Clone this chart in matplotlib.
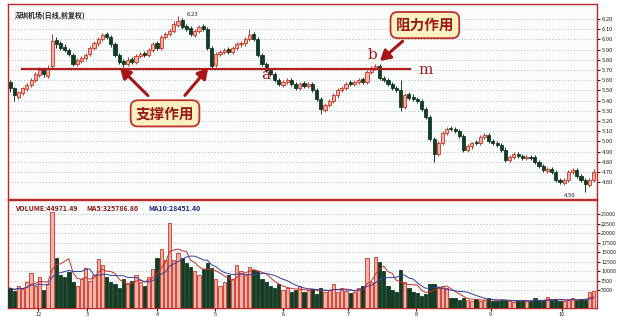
import numpy as np
import pandas as pd
import matplotlib
matplotlib.use("Agg")
from matplotlib import pyplot as plt

plt.rcParams['font.family'] = ['Noto Sans CJK SC', 'DejaVu Sans']

# daily candles (price, yuan)
opens = [5.58,5.52,5.44,5.47,5.51,5.55,5.60,5.65,5.71,5.64,
         5.74,5.99,5.96,5.93,5.90,5.85,5.76,5.79,5.82,5.86,
         5.92,5.96,6.00,6.05,6.02,5.95,5.85,5.79,5.76,5.81,
         5.78,5.84,5.87,5.85,5.90,5.96,5.92,6.02,6.05,6.08,
         6.14,6.19,6.13,6.11,6.04,6.08,6.13,6.10,5.92,5.75,
         5.86,5.88,5.91,5.88,5.92,5.95,5.96,6.00,6.05,6.00,
         5.85,5.76,5.70,5.66,5.60,5.55,5.58,5.60,5.56,5.52,
         5.57,5.54,5.56,5.50,5.42,5.31,5.36,5.40,5.45,5.50,
         5.52,5.58,5.56,5.58,5.61,5.58,5.68,5.72,5.74,5.62,
         5.60,5.56,5.52,5.50,5.34,5.46,5.44,5.42,5.40,5.32,
         5.24,5.02,4.88,4.98,5.08,5.13,5.12,5.10,5.05,4.92,
         4.95,4.99,4.98,5.04,5.06,5.00,4.98,4.96,4.92,4.82,
         4.85,4.88,4.86,4.84,4.85,4.85,4.80,4.76,4.71,4.73,
         4.70,4.62,4.59,4.62,4.70,4.72,4.66,4.62,4.57,4.62]
closes = [5.52,5.45,5.48,5.52,5.55,5.60,5.66,5.70,5.66,5.72,
          5.98,5.95,5.92,5.90,5.86,5.76,5.80,5.82,5.85,5.92,
          5.96,6.00,6.04,6.02,5.95,5.85,5.78,5.76,5.80,5.78,
          5.84,5.86,5.85,5.90,5.95,5.92,6.02,6.05,6.08,6.15,
          6.18,6.12,6.10,6.05,6.08,6.12,6.10,5.92,5.74,5.86,
          5.88,5.90,5.88,5.92,5.95,5.96,6.00,6.04,6.00,5.85,
          5.76,5.70,5.66,5.60,5.56,5.58,5.60,5.56,5.52,5.56,
          5.54,5.56,5.50,5.42,5.32,5.36,5.40,5.45,5.50,5.52,
          5.56,5.56,5.58,5.60,5.58,5.68,5.72,5.74,5.62,5.60,
          5.56,5.52,5.50,5.34,5.45,5.43,5.42,5.40,5.32,5.24,
          5.02,4.88,4.98,5.08,5.12,5.12,5.10,5.05,4.92,4.95,
          4.98,4.98,5.04,5.06,5.00,4.98,4.96,4.92,4.82,4.85,
          4.88,4.86,4.84,4.85,4.84,4.80,4.76,4.72,4.73,4.70,
          4.62,4.60,4.62,4.70,4.72,4.66,4.62,4.58,4.62,4.70]
highs = [5.60,5.53,5.49,5.53,5.57,5.62,5.68,5.73,5.72,5.75,
         6.05,6.02,5.98,5.95,5.92,5.87,5.82,5.84,5.87,5.94,
         5.98,6.02,6.06,6.07,6.04,5.97,5.87,5.81,5.83,5.83,
         5.86,5.88,5.89,5.92,5.97,5.98,6.04,6.07,6.10,6.18,
         6.23,6.21,6.15,6.13,6.10,6.14,6.15,6.12,5.94,5.88,
         5.90,5.92,5.93,5.94,5.97,5.98,6.02,6.10,6.07,6.02,
         5.87,5.78,5.72,5.68,5.62,5.60,5.62,5.62,5.58,5.58,
         5.59,5.58,5.58,5.52,5.44,5.38,5.42,5.47,5.52,5.54,
         5.58,5.60,5.60,5.62,5.63,5.70,5.74,5.76,5.76,5.64,
         5.62,5.58,5.54,5.60,5.47,5.48,5.46,5.44,5.42,5.34,
         5.26,5.04,5.00,5.10,5.14,5.15,5.14,5.12,5.07,4.97,
         4.99,5.01,5.06,5.08,5.08,5.02,5.00,4.98,4.94,4.87,
         4.90,4.90,4.88,4.87,4.87,4.87,4.82,4.78,4.75,4.75,
         4.72,4.64,4.64,4.72,4.74,4.74,4.68,4.64,4.64,4.73]
lows = [5.48,5.40,5.42,5.45,5.49,5.53,5.58,5.63,5.63,5.62,
        5.72,5.92,5.90,5.88,5.84,5.74,5.74,5.77,5.80,5.84,
        5.90,5.94,5.98,6.00,5.93,5.83,5.76,5.73,5.74,5.76,
        5.76,5.82,5.83,5.83,5.88,5.90,5.90,6.00,6.03,6.06,
        6.12,6.10,6.08,6.03,6.02,6.06,6.08,5.90,5.72,5.73,
        5.84,5.86,5.86,5.86,5.90,5.93,5.94,5.98,5.98,5.83,
        5.74,5.68,5.64,5.58,5.54,5.53,5.56,5.54,5.50,5.50,
        5.52,5.52,5.48,5.40,5.27,5.29,5.34,5.38,5.43,5.48,
        5.50,5.54,5.54,5.56,5.56,5.56,5.66,5.70,5.60,5.58,
        5.54,5.50,5.48,5.30,5.32,5.41,5.40,5.38,5.30,5.22,
        5.00,4.80,4.86,4.96,5.06,5.10,5.08,5.03,4.90,4.90,
        4.93,4.96,4.96,5.02,4.98,4.96,4.94,4.90,4.80,4.80,
        4.83,4.84,4.82,4.82,4.82,4.78,4.74,4.70,4.69,4.68,
        4.60,4.58,4.57,4.60,4.68,4.64,4.60,4.50,4.55,4.60]
volumes = [5500,4800,6000,5200,7000,9500,6000,8400,5000,6500,
           25500,13400,9000,8500,9700,7000,6000,8000,10800,7500,
           9000,13200,11600,8500,7000,6500,5500,8000,6500,7500,
           9000,7000,6000,8500,10500,13400,15800,13000,22600,13000,
           14700,13500,12000,11000,10000,9000,10500,12000,10800,8000,
           6000,7000,9000,8000,11600,10000,9000,11000,10300,10000,
           8000,7000,6000,5500,6500,5000,5500,4500,5000,6000,
           4500,5000,5200,4000,5500,4500,5000,6500,4500,5500,
           4800,4200,4500,5500,6000,13400,7000,13700,12400,10000,
           6000,5000,4500,10300,7100,5500,4500,4200,3500,4000,
           6500,6600,5800,6000,5500,3000,2800,2500,3000,2400,
           2200,2600,2000,2400,2800,2200,2000,2500,2300,2000,
           1800,2200,2500,2000,2200,2800,2000,2300,3200,2400,
           2600,2200,2000,2500,2800,2300,2600,2400,4500,4800]

price_ticks = [6.20,6.10,6.00,5.90,5.80,5.70,5.60,5.50,5.40,5.30,5.20,5.10,5.00,4.90,4.80,4.70,4.60]
vol_ticks = [25000,22500,20000,17500,15000,12500,10000,7500,5000]
month_pos = [6.7,18.3,35.0,48.8,65.0,80.5,96.7,114.5,131.4]
month_labels = ['12','3','4','5','6','7','8','9','10']
support_level = 5.71

up_fill = '#f2b4aa'
up_edge = '#cc3322'
down_col = '#143c24'
frame = '#c0282a'

def main():
    x = np.arange(len(closes))
    o = np.array(opens); c = np.array(closes)
    up = c >= o

    fig = plt.figure(figsize=(6.17, 3.17), dpi=100)
    fig.patch.set_facecolor('white')
    ax = fig.add_axes([8/617, 1-199/317, 589/617, 195/317])
    axv = fig.add_axes([8/617, 1-308/317, 589/617, 108/317])

    for a in (ax, axv):
        a.set_facecolor('#fbfdfd')
        for s in a.spines.values():
            s.set_color(frame)
            s.set_linewidth(1.0)
        a.yaxis.tick_right()
        a.tick_params(axis='y', labelsize=4.2, length=2, pad=1.5, colors='#222222')
        a.set_xlim(-0.5, 139.8)

    # candles
    ax.vlines(x[up], np.array(lows)[up], np.array(highs)[up], color=up_edge, lw=0.7, zorder=2)
    ax.vlines(x[~up], np.array(lows)[~up], np.array(highs)[~up], color=down_col, lw=0.7, zorder=2)
    body = np.maximum(np.abs(c - o), 0.006)
    ax.bar(x[up], body[up], bottom=np.minimum(o, c)[up], width=0.75,
           color=up_fill, edgecolor=up_edge, linewidth=0.6, zorder=3)
    ax.bar(x[~up], body[~up], bottom=np.minimum(o, c)[~up], width=0.75,
           color=down_col, edgecolor=down_col, linewidth=0.6, zorder=3)

    ax.set_ylim(4.435, 6.347)
    ax.set_yticks(price_ticks)
    ax.set_yticklabels(['%.2f' % t for t in price_ticks])
    ax.set_xticks([])
    for t in price_ticks:
        ax.axhline(t, color='#9aa0a8', lw=0.5, ls=(0, (1.5, 3)), zorder=1)

    ax.text(0.012, 0.965, '深圳机场(日线,前复权)', transform=ax.transAxes,
            fontsize=5, fontweight='bold', color='#222222', va='top')
    ax.text(42.0, 6.245, '6.23', fontsize=4.3, color='#222222', va='center')
    ax.text(132.0, 4.465, '4.50', fontsize=4.3, color='#222222', va='center')

    # support / resistance line
    ax.plot([2.9, 95.2], [support_level, support_level], color='#b01e1e', lw=1.6, zorder=4)
    ax.text(61.0, 5.65, 'a', fontsize=11, color='#a01818', family='DejaVu Serif', ha='center', va='center')
    ax.text(86.2, 5.85, 'b', fontsize=11, color='#a01818', family='DejaVu Serif', ha='center', va='center')
    ax.text(99.0, 5.70, 'm', fontsize=11, color='#a01818', family='DejaVu Serif', ha='center', va='center')

    box = dict(boxstyle='round,pad=0.35,rounding_size=0.5', fc='#fdf1c4', ec='#c0302a', lw=1.3)
    ax.text(36.9, 5.275, '支撑作用', fontsize=10.5, fontweight='bold', color='#9a1a14',
            ha='center', va='center', bbox=box, zorder=6)
    ax.text(98.8, 6.14, '阻力作用', fontsize=10.5, fontweight='bold', color='#9a1a14',
            ha='center', va='center', bbox=box, zorder=6)
    arrow = dict(arrowstyle='-|>,head_length=0.6,head_width=0.35', color='#a8161a', lw=2.2)
    ax.annotate('', xy=(25.7, 5.74), xytext=(33.3, 5.43), arrowprops=arrow, zorder=5)
    ax.annotate('', xy=(47.6, 5.74), xytext=(41.2, 5.43), arrowprops=arrow, zorder=5)
    ax.annotate('', xy=(87.6, 5.77), xytext=(94.0, 6.0), arrowprops=arrow, zorder=5)

    # volume
    vol = np.array(volumes)
    axv.bar(x[up], vol[up], width=0.78, color=up_fill, edgecolor=up_edge, linewidth=0.6, zorder=3)
    axv.bar(x[~up], vol[~up], width=0.78, color=down_col, edgecolor=down_col, linewidth=0.6, zorder=3)
    s = pd.Series(volumes, dtype=float)
    axv.plot(x, s.rolling(5, min_periods=1).mean(), color='#c8302a', lw=0.7, zorder=4)
    axv.plot(x, s.rolling(10, min_periods=1).mean(), color='#3040a0', lw=0.7, zorder=4)
    axv.set_ylim(270, 28700)
    axv.set_yticks(vol_ticks)
    axv.set_yticklabels([str(v) for v in vol_ticks])
    axv.tick_params(axis='y', labelsize=3.9, pad=1)
    for t in vol_ticks:
        axv.axhline(t, color='#9aa0a8', lw=0.5, ls=(0, (1.5, 3)), zorder=1)
    axv.set_xticks(month_pos)
    axv.set_xticklabels(month_labels)
    axv.tick_params(axis='x', labelsize=4, length=2, pad=1, colors='#222222')

    axv.text(0.012, 0.955, 'VOLUME:44971.49', transform=axv.transAxes,
             fontsize=5, fontweight='bold', color='#8a1414', va='top')
    axv.text(0.133, 0.955, 'MA5:325786.80', transform=axv.transAxes,
             fontsize=5, fontweight='bold', color='#8a1414', va='top')
    axv.text(0.238, 0.955, 'MA10:28451.40', transform=axv.transAxes,
             fontsize=5, fontweight='bold', color='#1c2a78', va='top')

    fig.savefig('out.png', dpi=100)

if __name__ == "__main__":
    main()
